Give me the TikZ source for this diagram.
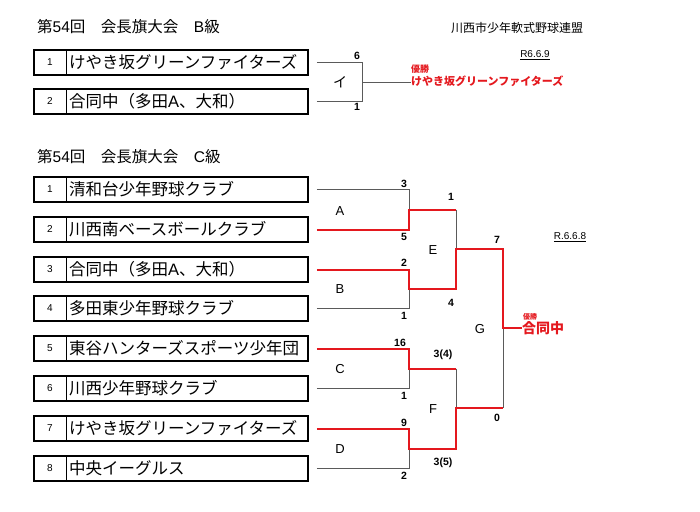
\documentclass[tikz,border=0pt]{standalone}
\usepackage{fontspec}
\setmainfont{Noto Sans CJK JP}
\newfontfamily\latin{Liberation Sans}
\usepackage{tikz}

\definecolor{winred}{RGB}{228,24,30}
\definecolor{losegray}{RGB}{90,90,90}

\begin{document}
\begin{tikzpicture}[x=1pt,y=-1pt]
\tikzstyle{every node}+=[inner sep=0pt]
\tikzstyle{teambox}=[draw=black,line width=1.5pt,minimum width=274pt,minimum height=25pt]
\tikzstyle{num}=[font=\latin\fontsize{10}{10}\selectfont]
\tikzstyle{team}=[anchor=west,font=\fontsize{16.5}{16.5}\selectfont]
\tikzstyle{score}=[font=\latin\bfseries\fontsize{10.5}{10.5}\selectfont]
\tikzstyle{game}=[font=\latin\fontsize{13}{13}\selectfont]
\tikzstyle{loser}=[draw=losegray,line width=1pt]
\tikzstyle{winner}=[draw=winred,line width=2pt]
\useasboundingbox (0,0) rectangle (700,511);
% B class
\node[anchor=west,font=\fontsize{15.5}{15.5}\selectfont] (btitle) at (37,27) {第{\latin 54}回　会長旗大会　{\latin B}級};
\node[font=\fontsize{12}{12}\selectfont] (league) at (517,28) {川西市少年軟式野球連盟};
\node[font=\latin\fontsize{10}{10}\selectfont] (bdate) at (535,55) {\underline{R6.6.9}};
\node[teambox] (b1) at (171,62.5) {};
\draw [line width=1pt] (66,50) -- (66,75);
\node[num] (b1n) at (50,62.5) {1};
\node[team] (b1t) at (69,62.5) {けやき坂グリーンファイターズ};
\node[teambox] (b2) at (171,101.5) {};
\draw [line width=1pt] (66,89) -- (66,114);
\node[num] (b2n) at (50,101.5) {2};
\node[team] (b2t) at (69,101.5) {合同中（多田{\latin A}、大和）};
\coordinate (pI) at (362,82);
\draw [loser] ([xshift=8pt]b1.east) -| (pI);
\draw [loser] ([xshift=8pt]b2.east) -| (pI);
\node[font=\fontsize{14}{14}\selectfont] (gI) at (340,82) {イ};
\node[score] (sI1) at (357,56) {6};
\node[score] (sI2) at (357,107) {1};
\node[anchor=west,text=winred,font=\bfseries\fontsize{11}{11}\selectfont] (bwin) at (411,81) {けやき坂グリーンファイターズ};
\node[anchor=south west,text=winred,font=\bfseries\fontsize{9}{9}\selectfont] (bwinl) at (411,74) {優勝};
\draw [loser] (pI) -- (pI -| bwin.west);
% C class
\node[anchor=west,font=\fontsize{15.5}{15.5}\selectfont] (ctitle) at (37,157) {第{\latin 54}回　会長旗大会　{\latin C}級};
\node[font=\latin\fontsize{10}{10}\selectfont] (cdate) at (570,237) {\underline{R.6.6.8}};
\node[teambox] (c1) at (171,189.5) {};
\draw [line width=1pt] (66,177) -- (66,202);
\node[num] (c1n) at (50,189.5) {1};
\node[team] (c1t) at (69,189.5) {清和台少年野球クラブ};
\node[teambox] (c2) at (171,229.5) {};
\draw [line width=1pt] (66,217) -- (66,242);
\node[num] (c2n) at (50,229.5) {2};
\node[team] (c2t) at (69,229.5) {川西南ベースボールクラブ};
\node[teambox] (c3) at (171,269.5) {};
\draw [line width=1pt] (66,257) -- (66,282);
\node[num] (c3n) at (50,269.5) {3};
\node[team] (c3t) at (69,269.5) {合同中（多田{\latin A}、大和）};
\node[teambox] (c4) at (171,308.5) {};
\draw [line width=1pt] (66,296) -- (66,321);
\node[num] (c4n) at (50,308.5) {4};
\node[team] (c4t) at (69,308.5) {多田東少年野球クラブ};
\node[teambox] (c5) at (171,348.5) {};
\draw [line width=1pt] (66,336) -- (66,361);
\node[num] (c5n) at (50,348.5) {5};
\begin{scope}
\clip (66,336) rectangle (307,361);
\node[team] (c5t) at (69,348.5) {東谷ハンターズスポーツ少年団};
\end{scope}
\node[teambox] (c6) at (171,388.5) {};
\draw [line width=1pt] (66,376) -- (66,401);
\node[num] (c6n) at (50,388.5) {6};
\node[team] (c6t) at (69,388.5) {川西少年野球クラブ};
\node[teambox] (c7) at (171,428.5) {};
\draw [line width=1pt] (66,416) -- (66,441);
\node[num] (c7n) at (50,428.5) {7};
\node[team] (c7t) at (69,428.5) {けやき坂グリーンファイターズ};
\node[teambox] (c8) at (171,468.5) {};
\draw [line width=1pt] (66,456) -- (66,481);
\node[num] (c8n) at (50,468.5) {8};
\node[team] (c8t) at (69,468.5) {中央イーグルス};
\coordinate (pA) at (409,209.5);
\coordinate (pB) at (409,288.5);
\coordinate (pC) at (409,368.5);
\coordinate (pD) at (409,448.5);
\coordinate (pE) at (456,249);
\coordinate (pF) at (456,408);
\coordinate (pG) at (503,328);
\draw [loser] ([xshift=8pt]c1.east) -| (pA);
\draw [loser] ([xshift=8pt]c4.east) -| (pB);
\draw [loser] ([xshift=8pt]c6.east) -| (pC);
\draw [loser] ([xshift=8pt]c8.east) -| (pD);
\draw [loser] (pA -| pE) -- (pE);
\draw [loser] (pC -| pF) -- (pF);
\draw [loser] (pG) -- (pG |- pF);
\node[anchor=west,text=winred,font=\bfseries\fontsize{14}{14}\selectfont] (cwin) at (522,328) {合同中};
\node[anchor=south west,text=winred,font=\bfseries\fontsize{7}{7}\selectfont] (cwinl) at (523,320) {優勝};
\draw [winner] ([xshift=8pt]c2.east) -| (pA) -- (pA -| pE);
\draw [winner] ([xshift=8pt]c3.east) -| (pB) -| (pE) -- (pE -| pG) -- (pG) -- (cwin.west);
\draw [winner] ([xshift=8pt]c5.east) -| (pC) -- (pC -| pF);
\draw [winner] ([xshift=8pt]c7.east) -| (pD) -| (pF) -- (pF -| pG);
\node[game] (gA) at (340,211) {A};
\node[game] (gB) at (340,289) {B};
\node[game] (gC) at (340,369) {C};
\node[game] (gD) at (340,449) {D};
\node[game] (gE) at (433,250) {E};
\node[game] (gF) at (433,409) {F};
\node[game] (gG) at (480,329) {G};
\node[score] (sA1) at (404,184) {3};
\node[score] (sA2) at (404,237) {5};
\node[score] (sB1) at (404,263) {2};
\node[score] (sB2) at (404,316) {1};
\node[score] (sC1) at (400,343) {16};
\node[score] (sC2) at (404,396) {1};
\node[score] (sD1) at (404,423) {9};
\node[score] (sD2) at (404,476) {2};
\node[score] (sE1) at (451,197) {1};
\node[score] (sE2) at (451,303) {4};
\node[score] (sF1) at (443,355) {3(4)};
\node[score] (sF2) at (443,463) {3(5)};
\node[score] (sG1) at (497,240) {7};
\node[score] (sG2) at (497,418) {0};
\end{tikzpicture}
\end{document}
